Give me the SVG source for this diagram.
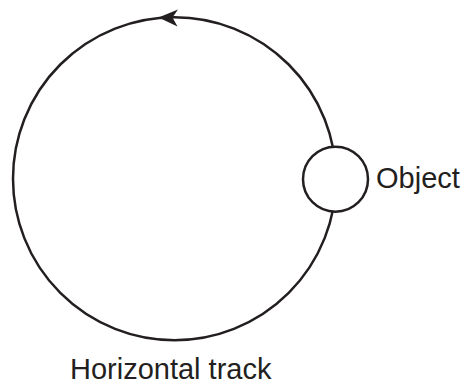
<svg xmlns="http://www.w3.org/2000/svg" width="465" height="386" viewBox="0 0 465 386">
  <style>
    .ln { fill: none; stroke: #231f20; stroke-width: 2.5; }
    .node { fill: #ffffff; stroke: #231f20; stroke-width: 2.5; }
    .lbl { font-family: "Liberation Sans", Arial, sans-serif; font-size: 29px; fill: #231f20; }
    .ah { fill: #231f20; stroke: none; }
  </style>
  <rect width="465" height="386" fill="#ffffff"/>
  <g id="connectors">
    <circle class="ln" cx="174.5" cy="178.7" r="161.5"/>
    <polygon class="ah" points="158.5,17.5 178,9.5 172.5,17.5 177.5,26.5"/>
  </g>
  <g id="object">
    <circle class="node" cx="335.5" cy="179.2" r="32.5"/>
    <text class="lbl" x="376" y="188">Object</text>
  </g>
  <g id="track-label">
    <text class="lbl" x="70" y="379">Horizontal track</text>
  </g>
</svg>
